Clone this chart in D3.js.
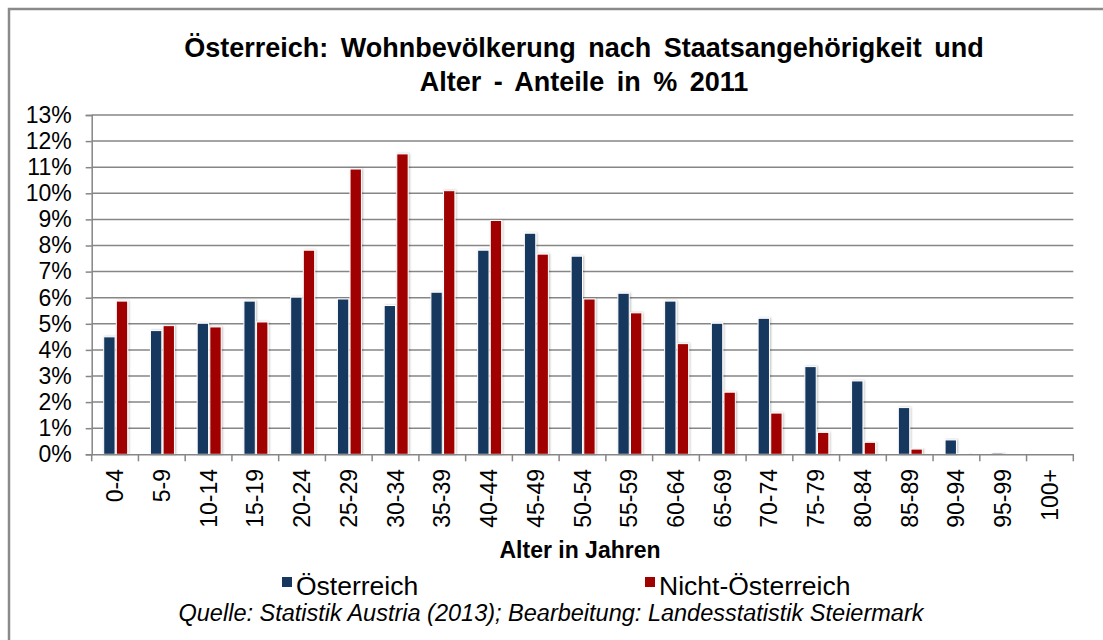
<!DOCTYPE html>
<html>
<head>
<meta charset="utf-8">
<script src="https://cdn.jsdelivr.net/npm/d3@7"></script>
<style>
    body { margin: 0; background: #fff; }
    svg { display: block; font-family: "Liberation Sans", Arial, sans-serif; }
</style>
</head>
<body>
<script>
const ageGroups = ['0-4', '5-9', '10-14', '15-19', '20-24', '25-29', '30-34', '35-39',
    '40-44', '45-49', '50-54', '55-59', '60-64', '65-69', '70-74', '75-79',
    '80-84', '85-89', '90-94', '95-99', '100+'];
const oesterreich = [4.5, 4.74, 5.02, 5.87, 6.02, 5.95, 5.7, 6.21, 7.82, 8.47, 7.59,
    6.17, 5.87, 5.02, 5.21, 3.36, 2.81, 1.79, 0.55, 0.05, 0.01];
const nichtOesterreich = [5.87, 4.93, 4.88, 5.07, 7.82, 10.93, 11.51, 10.1, 8.96, 7.67, 5.95,
    5.42, 4.24, 2.38, 1.58, 0.84, 0.46, 0.2, 0.03, 0.01, 0];
const seriesNames = ['Österreich', 'Nicht-Österreich'];
const seriesColors = ['#17375e', '#a00000'];
const yTicks = d3.range(0, 14);

const titleLines = ['Österreich: Wohnbevölkerung nach Staatsangehörigkeit und',
    'Alter - Anteile in % 2011'];
const xTitle = 'Alter in Jahren';
const sourceText = 'Quelle: Statistik Austria (2013); Bearbeitung: Landesstatistik Steiermark';


function plot(svg)
{
    const left = 91.7, right = 1073.3, top = 115, bottom = 454.3;

    const scX = d3.scaleBand().domain(ageGroups).range([left, right]);
    const scSub = d3.scaleBand().domain(seriesNames)
        .range([12, 36]).paddingInner(0.1);
    const scY = d3.scaleLinear().domain([0, 13]).range([bottom, top]);

    // frame
    svg.append('rect')
        .attr('x', 9).attr('y', 9)
        .attr('width', 1110).attr('height', 650)
        .attr('fill', 'none')
        .attr('stroke', '#8a8a8a')
        .attr('stroke-width', 2.5);

    const defs = svg.append('defs');
    defs.append('filter').attr('id', 'shadow')
        .attr('x', '-30%').attr('y', '-10%').attr('width', '160%').attr('height', '120%')
        .append('feDropShadow')
        .attr('dx', 1).attr('dy', 0).attr('stdDeviation', 1.2)
        .attr('flood-color', '#000').attr('flood-opacity', 0.25);

    // title
    svg.append('text')
        .attr('text-anchor', 'middle')
        .attr('font-weight', 'bold')
        .attr('font-size', 27)
        .attr('word-spacing', 5)
        .attr('fill', '#000')
        .selectAll('tspan')
        .data(titleLines).enter().append('tspan')
        .attr('x', 584)
        .attr('y', (d, i) => 57 + i * 34)
        .text(d => d);

    // y grid + axis
    const yAxis = svg.append('g')
        .attr('transform', `translate(${left}, 0)`)
        .call(d3.axisLeft(scY)
            .tickValues(yTicks)
            .tickSize(6)
            .tickPadding(14)
            .tickFormat(d => d + '%'));
    yAxis.select('.domain').attr('stroke', '#868686').attr('stroke-width', 1.5);
    yAxis.selectAll('.tick line').attr('stroke', '#868686').attr('stroke-width', 1.5);
    yAxis.selectAll('.tick text')
        .attr('font-size', 23)
        .attr('font-family', '"Liberation Sans", Arial, sans-serif')
        .attr('fill', '#000');

    svg.append('g')
        .selectAll('line')
        .data(yTicks.filter(d => d > 0)).enter().append('line')
        .attr('x1', left).attr('x2', right)
        .attr('y1', d => scY(d)).attr('y2', d => scY(d))
        .attr('stroke', '#868686')
        .attr('stroke-width', 1.5);

    // bars
    const groups = svg.append('g')
        .selectAll('g')
        .data(ageGroups).enter().append('g')
        .attr('transform', d => `translate(${scX(d)}, 0)`);
    groups.selectAll('rect')
        .data((d, i) => [
            { s: seriesNames[0], v: oesterreich[i], c: seriesColors[0] },
            { s: seriesNames[1], v: nichtOesterreich[i], c: seriesColors[1] },
        ])
        .enter().append('rect')
        .attr('x', d => scSub(d.s))
        .attr('width', scSub.bandwidth())
        .attr('y', d => scY(d.v))
        .attr('height', d => scY(0) - scY(d.v))
        .attr('fill', d => d.c)
        .attr('stroke', '#fff')
        .attr('stroke-width', 1)
        .attr('filter', 'url(#shadow)');

    // x axis
    const xAxis = svg.append('g')
        .attr('transform', `translate(0, ${bottom})`)
        .call(d3.axisBottom(scX).tickSize(0).tickFormat(''));
    xAxis.select('.domain').attr('stroke', '#868686').attr('stroke-width', 1.5);
    xAxis.selectAll('.tick').remove();
    svg.append('g')
        .selectAll('line')
        .data(d3.range(ageGroups.length + 1)).enter().append('line')
        .attr('x1', i => left + i * scX.step())
        .attr('x2', i => left + i * scX.step())
        .attr('y1', bottom).attr('y2', bottom + 7)
        .attr('stroke', '#868686')
        .attr('stroke-width', 1.5);

    svg.append('g')
        .selectAll('text')
        .data(ageGroups).enter().append('text')
        .attr('transform', d => `translate(${scX(d) + scX.bandwidth() / 2 + 8}, 469) rotate(-90)`)
        .attr('text-anchor', 'end')
        .attr('font-size', 23)
        .attr('fill', '#000')
        .text(d => d);

    svg.append('text')
        .attr('x', 580).attr('y', 558)
        .attr('text-anchor', 'middle')
        .attr('font-weight', 'bold')
        .attr('font-size', 23)
        .text(xTitle);

    // legend
    const legendX = [282, 645];
    const legend = svg.append('g')
        .selectAll('g')
        .data(seriesNames).enter().append('g')
        .attr('transform', (d, i) => `translate(${legendX[i]}, 0)`);
    legend.append('rect')
        .attr('x', 0).attr('y', 577)
        .attr('width', 10).attr('height', 10)
        .attr('fill', (d, i) => seriesColors[i]);
    legend.append('text')
        .attr('x', 14).attr('y', 595)
        .attr('font-size', 26.5)
        .attr('fill', '#000')
        .text(d => d);

    svg.append('text')
        .attr('x', 551).attr('y', 621)
        .attr('text-anchor', 'middle')
        .attr('font-style', 'italic')
        .attr('font-size', 23.5)
        .attr('fill', '#000')
        .text(sourceText);
}

function main()
{
    const svg = d3.select('body')
        .append('svg')
        .attr('width', 1103)
        .attr('height', 640);
    plot(svg);
}

main();
</script>
</body>
</html>
